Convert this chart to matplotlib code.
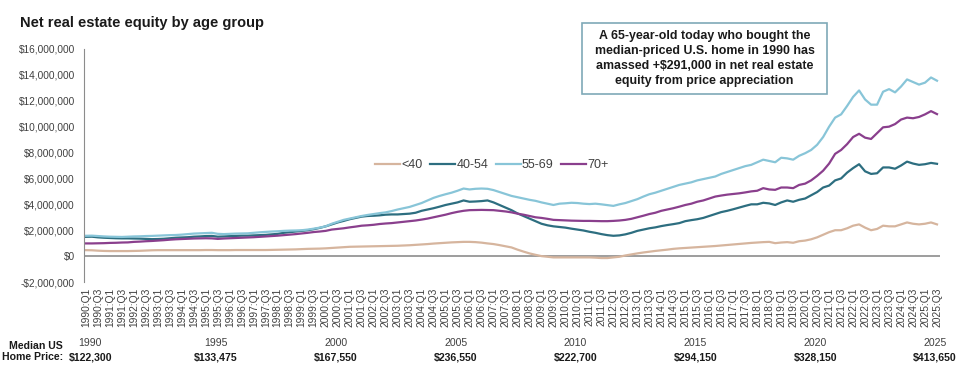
import numpy as np
import matplotlib.pyplot as plt
from matplotlib.patches import Rectangle
from matplotlib.ticker import FuncFormatter

plt.rcParams['font.family'] = ['Liberation Sans', 'DejaVu Sans']

# quarterly categories 1990:Q1 .. 2025:Q3
quarters = [f"{y}:Q{q}" for y in range(1990, 2026) for q in range(1, 5)][:143]

# net real estate equity, $ millions, one row per year
under_40 = [
    0.46, 0.45, 0.42, 0.40,  0.39, 0.39, 0.39, 0.39,  0.40, 0.41, 0.43, 0.45,
    0.46, 0.46, 0.46, 0.46,  0.46, 0.46, 0.46, 0.46,  0.47, 0.47, 0.46, 0.46,
    0.46, 0.47, 0.47, 0.47,  0.47, 0.47, 0.47, 0.48,  0.49, 0.50, 0.51, 0.52,
    0.54, 0.56, 0.57, 0.58,  0.60, 0.63, 0.66, 0.69,  0.72, 0.73, 0.74, 0.75,
    0.76, 0.77, 0.78, 0.79,  0.80, 0.82, 0.84, 0.87,  0.90, 0.93, 0.97, 1.00,
    1.03, 1.06, 1.08, 1.10,  1.10, 1.08, 1.04, 0.98,  0.93, 0.85, 0.76, 0.67,
    0.50, 0.35, 0.21, 0.10,  0.00, -0.05, -0.10, -0.10,  -0.10, -0.10, -0.10, -0.10,
    -0.10, -0.12, -0.15, -0.15,  -0.10, -0.05, 0.05, 0.13,  0.21, 0.28, 0.34, 0.40,
    0.45, 0.50, 0.56, 0.60,  0.63, 0.66, 0.69, 0.72,  0.75, 0.78, 0.82, 0.86,
    0.90, 0.94, 0.98, 1.02,  1.05, 1.08, 1.10, 1.00,  1.05, 1.08, 1.03, 1.15,
    1.20, 1.30, 1.45, 1.65,  1.85, 2.00, 2.00, 2.15,  2.35, 2.45, 2.20, 2.00,
    2.10, 2.35, 2.30, 2.30,  2.45, 2.60, 2.50, 2.45,  2.50, 2.60, 2.45,
]
age_40_54 = [
    1.49, 1.50, 1.45, 1.42,  1.40, 1.38, 1.37, 1.37,  1.36, 1.35, 1.33, 1.31,
    1.32, 1.34, 1.38, 1.42,  1.44, 1.46, 1.50, 1.52,  1.55, 1.56, 1.50, 1.52,
    1.54, 1.56, 1.58, 1.58,  1.60, 1.62, 1.64, 1.68,  1.72, 1.80, 1.85, 1.90,
    1.95, 2.00, 2.08, 2.18,  2.30, 2.45, 2.60, 2.72,  2.85, 2.95, 3.05, 3.10,
    3.12, 3.15, 3.20, 3.22,  3.22, 3.25, 3.28, 3.35,  3.50, 3.60, 3.70, 3.82,
    3.95, 4.05, 4.15, 4.30,  4.20, 4.22, 4.25, 4.30,  4.15, 3.95, 3.75, 3.55,
    3.30, 3.10, 2.90, 2.70,  2.50, 2.38, 2.30, 2.25,  2.20, 2.12, 2.05, 1.98,
    1.88, 1.80, 1.70, 1.62,  1.57, 1.60, 1.68, 1.80,  1.95, 2.05, 2.15, 2.22,
    2.32, 2.40, 2.47, 2.55,  2.70, 2.78, 2.85, 2.95,  3.10, 3.25, 3.40, 3.50,
    3.62, 3.75, 3.88, 4.00,  4.00, 4.12, 4.07, 3.95,  4.15, 4.30, 4.20, 4.35,
    4.45, 4.70, 4.95, 5.30,  5.45, 5.85, 6.00, 6.45,  6.80, 7.10, 6.55, 6.35,
    6.40, 6.85, 6.85, 6.75,  7.00, 7.30, 7.15, 7.05,  7.10, 7.20, 7.13,
]
age_55_69 = [
    1.57, 1.58, 1.55, 1.52,  1.50, 1.49, 1.48, 1.50,  1.52, 1.53, 1.55, 1.56,
    1.58, 1.60, 1.62, 1.63,  1.66, 1.70, 1.74, 1.76,  1.78, 1.80, 1.72, 1.70,
    1.72, 1.74, 1.75, 1.76,  1.80, 1.84, 1.87, 1.90,  1.92, 1.95, 1.97, 1.98,
    2.00, 2.05, 2.12, 2.20,  2.30, 2.50, 2.65, 2.80,  2.90, 3.00, 3.10, 3.18,
    3.25, 3.32, 3.38, 3.48,  3.60, 3.70, 3.80, 3.95,  4.10, 4.30, 4.50, 4.65,
    4.78, 4.90, 5.05, 5.22,  5.15, 5.20, 5.22, 5.20,  5.10, 4.95, 4.80, 4.65,
    4.55, 4.45, 4.35, 4.27,  4.15, 4.05, 3.95, 4.05,  4.08, 4.12, 4.10, 4.05,
    4.02, 4.05, 4.00, 3.94,  3.88, 4.00, 4.10, 4.25,  4.40, 4.60, 4.78, 4.90,
    5.05, 5.20, 5.35, 5.50,  5.60, 5.70, 5.85, 5.95,  6.05, 6.15, 6.35, 6.50,
    6.65, 6.80, 6.95, 7.05,  7.25, 7.45, 7.35, 7.25,  7.60, 7.55, 7.45, 7.75,
    7.95, 8.20, 8.60, 9.20,  10.00, 10.70, 10.95, 11.60,  12.30, 12.80, 12.10, 11.70,
    11.70, 12.70, 12.90, 12.65,  13.10, 13.65, 13.45, 13.25,  13.40, 13.80, 13.55,
]
age_70_plus = [
    0.98, 0.98, 0.99, 1.00,  1.02, 1.03, 1.05, 1.06,  1.10, 1.12, 1.15, 1.17,
    1.20, 1.23, 1.27, 1.30,  1.32, 1.34, 1.36, 1.37,  1.38, 1.37, 1.33, 1.36,
    1.38, 1.40, 1.42, 1.44,  1.46, 1.49, 1.52, 1.55,  1.58, 1.62, 1.66, 1.70,
    1.75, 1.80, 1.86, 1.90,  1.95, 2.05, 2.10, 2.15,  2.22, 2.28, 2.35, 2.38,
    2.42, 2.48, 2.52, 2.55,  2.60, 2.65, 2.70, 2.75,  2.82, 2.90, 3.00, 3.10,
    3.20, 3.32, 3.42, 3.50,  3.55, 3.56, 3.57, 3.56,  3.55, 3.50, 3.45, 3.38,
    3.28, 3.20, 3.10, 3.00,  2.95, 2.88, 2.80, 2.78,  2.76, 2.74, 2.73, 2.72,
    2.72, 2.71, 2.70, 2.70,  2.72, 2.75, 2.80, 2.88,  3.00, 3.12, 3.25, 3.35,
    3.50, 3.60, 3.70, 3.82,  3.95, 4.05, 4.20, 4.30,  4.45, 4.60, 4.68, 4.75,
    4.80, 4.85, 4.92, 5.00,  5.05, 5.25, 5.15, 5.12,  5.30, 5.30, 5.25, 5.50,
    5.60, 5.85, 6.20, 6.60,  7.15, 7.90, 8.20, 8.65,  9.20, 9.45, 9.15, 9.05,
    9.50, 9.95, 10.00, 10.20,  10.55, 10.70, 10.65, 10.75,  10.95, 11.20, 10.97,
]

series_names = ["<40", "40-54", "55-69", "70+"]
series_colors = ["#D6B59E", "#2D6E80", "#88C5D8", "#8A3F8D"]

price_years = ["1990", "1995", "2000", "2005", "2010", "2015", "2020", "2025"]
median_prices = ["$122,300", "$133,475", "$167,550", "$236,550",
                 "$222,700", "$294,150", "$328,150", "$413,650"]

note = ("A 65-year-old today who bought the\n"
        "median-priced U.S. home in 1990 has\n"
        "amassed +$291,000 in net real estate\n"
        "equity from price appreciation")

W, H = 975, 377
fig = plt.figure(figsize=(W / 100, H / 100), dpi=100)
ax = fig.add_axes([84 / W, 95 / H, 856 / W, 233 / H])

x = np.arange(len(quarters))
for vals, name, col in zip([under_40, age_40_54, age_55_69, age_70_plus],
                           series_names, series_colors):
    ax.plot(x, np.array(vals) * 1e6, color=col, lw=1.6, label=name)

ax.set_xlim(-0.33, 142.5)
ax.set_ylim(-2e6, 16e6)
ax.set_yticks(np.arange(-2e6, 16.1e6, 2e6))
ax.yaxis.set_major_formatter(FuncFormatter(
    lambda v, p: ('-' if v < 0 else '') + f"${abs(v):,.0f}"))
ax.set_xticks(x[::2])
ax.set_xticklabels(quarters[::2], rotation=90, fontsize=7.4, color='#404040')
ax.tick_params(axis='y', length=0, labelsize=7.3, labelcolor='#404040', pad=6.5)
ax.tick_params(axis='x', length=0, pad=4)

for s in ['top', 'right', 'bottom']:
    ax.spines[s].set_visible(False)
ax.spines['left'].set_color('#8C8C8C')
ax.axhline(0, color='#8C8C8C', lw=1.2, zorder=1)

ax.legend(loc='center', bbox_to_anchor=(492 / W, 1 - 165 / H),
          bbox_transform=fig.transFigure, ncol=4, frameon=False,
          fontsize=9, handlelength=2.0, handletextpad=0.1,
          columnspacing=0.6, labelcolor='#404040')

fig.text(20 / W, 1 - 23 / H, "Net real estate equity by age group",
         fontsize=10.5, fontweight='bold', color='#1a1a1a', va='center')

fig.patches.append(Rectangle((582 / W, 1 - 94 / H), 245 / W, 71 / H,
                             transform=fig.transFigure, fill=False,
                             ec='#7FA9B8', lw=1.2))
fig.text(704.5 / W, 1 - 58.5 / H, note, ha='center', va='center',
         fontsize=8.9, fontweight='bold', color='#1a1a1a', linespacing=1.3)

# median home price table under the axis
fig.text(63 / W, 1 - 346 / H, "Median US", ha='right', va='center',
         fontsize=7.6, fontweight='bold', color='#1a1a1a')
fig.text(63 / W, 1 - 357 / H, "Home Price:", ha='right', va='center',
         fontsize=7.6, fontweight='bold', color='#1a1a1a')
to_fig = fig.transFigure.inverted()
for k, (yr, pr) in enumerate(zip(price_years, median_prices)):
    idx = min(k * 20 + 1.7, 142) if k else 0.7
    xf = to_fig.transform(ax.transData.transform((idx, 0)))[0]
    fig.text(xf, 1 - 343 / H, yr, ha='center', va='center',
             fontsize=7.6, color='#404040')
    fig.text(xf, 1 - 357 / H, pr, ha='center', va='center',
             fontsize=7.6, fontweight='bold', color='#1a1a1a')

fig.savefig('out.png', dpi=100)
